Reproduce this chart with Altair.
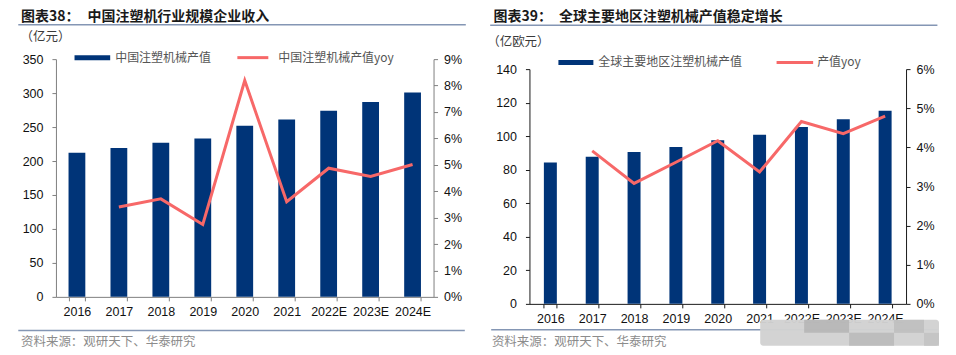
import altair as alt
import pandas as pd

# ---------------- data ----------------
years = ["2016", "2017", "2018", "2019", "2020", "2021", "2022E", "2023E", "2024E"]
china_value = [212, 219, 227, 233, 252, 261, 274, 287, 301]           # 亿元
china_yoy = [None, 3.40, 3.71, 2.74, 8.19, 3.60, 4.87, 4.56, 5.01]     # %
global_value = [84.3, 87.7, 90.5, 93.6, 97.6, 100.8, 105.5, 110.1, 115.2]  # 亿欧元
global_yoy = [None, 3.91, 3.08, 3.62, 4.17, 3.37, 4.66, 4.35, 4.80]    # %

left_ticks_1 = [0, 50, 100, 150, 200, 250, 300, 350]
right_ticks_1 = [0, 1, 2, 3, 4, 5, 6, 7, 8, 9]
left_ticks_2 = [0, 20, 40, 60, 80, 100, 120, 140]
right_ticks_2 = [0, 1, 2, 3, 4, 5, 6]

BAR = "#003478"
LINE = "#f76868"
RULE = "#8496b4"
FONT_NUM = "Liberation Sans"
FONT_CJK = "Noto Sans CJK SC"
ONE = alt.Data(values=[{"a": 1}])


def txt(s, x, y, size, color, weight="normal", align="left"):
    return alt.Chart(ONE).mark_text(
        text=s, align=align, baseline="middle", fontSize=size, color=color,
        fontWeight=weight, font=FONT_CJK
    ).encode(x=alt.value(x), y=alt.value(y))


def hrule(x1, x2, y, color, width):
    return alt.Chart(ONE).mark_rule(color=color, strokeWidth=width).encode(
        x=alt.value(x1), x2=alt.value(x2), y=alt.value(y), y2=alt.value(y))


def swatch_rect(x1, x2, y1, y2, color, opacity=1.0, radius=0):
    return alt.Chart(ONE).mark_rect(color=color, opacity=opacity, cornerRadius=radius).encode(
        x=alt.value(x1), x2=alt.value(x2), y=alt.value(y1), y2=alt.value(y2))


def panel(values, yoy, lticks, rticks, width, height, yrange, pin, pout, axcol,
          title_no, title_x_no, title_main, title_x_main, rule_x1, rule_x2, rule_y,
          unit, unit_x, unit_y, leg, foot_rule, foot_text, xlab_pad, extra=None, top=None):
    df = pd.DataFrame({"year": years, "value": values,
                       "yoy": [None if v is None else v / 100 for v in yoy]})
    dfl = df.dropna(subset=["yoy"])
    xenc = alt.X("year:N", sort=years,
                 scale=alt.Scale(domain=years, paddingInner=pin, paddingOuter=pout),
                 axis=alt.Axis(title=None, labelAngle=0, tickBand="extent", tickSize=4,
                               domainColor=axcol, tickColor=axcol, labelColor="#111111",
                               labelFont=FONT_NUM, labelFontSize=12.5, labelPadding=xlab_pad,
                               grid=False))
    yscale = dict(domain=[lticks[0], lticks[-1]], nice=False, zero=True)
    yrscale = dict(domain=[0, rticks[-1] / 100], nice=False, zero=True)
    if yrange is not None:
        yscale["range"] = yrange
        yrscale["range"] = yrange
    bars = alt.Chart(df).mark_bar(color=BAR).encode(
        x=xenc,
        y=alt.Y("value:Q", scale=alt.Scale(**yscale),
                axis=alt.Axis(values=lticks, title=None, grid=False, tickSize=4,
                              domainColor=axcol, tickColor=axcol, labelColor="#111111",
                              labelFont=FONT_NUM, labelFontSize=12.5, labelPadding=9,
                              labelOverlap=False)))
    line = alt.Chart(dfl).mark_line(color=LINE, strokeWidth=3).encode(
        x=xenc,
        y=alt.Y("yoy:Q", scale=alt.Scale(**yrscale),
                axis=alt.Axis(orient="right", values=[t / 100 for t in rticks], format=".0%",
                              title=None, grid=False, tickSize=4, domainColor=axcol,
                              tickColor=axcol, labelColor="#111111", labelFont=FONT_NUM,
                              labelFontSize=12.5, labelPadding=6, labelOverlap=False)))
    data_layer = alt.layer(bars, line).resolve_scale(y="independent")

    (bx1, bx2, by, bl_x, bl_text, lx1, lx2, ll_x, ll_text) = leg
    deco = [
        txt(title_no, title_x_no, -42, 14, "#1a1a1a", "bold"),
        txt(title_main, title_x_main, -42, 14, "#1a1a1a", "bold"),
        hrule(rule_x1, rule_x2, rule_y, RULE, 1.5),
        txt(unit, unit_x, unit_y, 12.5, "#3a3a3a"),
        swatch_rect(bx1, bx2, by - 2.5, by + 2.5, BAR),
        txt(bl_text, bl_x, by, 12, "#555555"),
        hrule(lx1, lx2, by, LINE, 3),
        txt(ll_text, ll_x, by, 12, "#555555"),
        hrule(foot_rule[0], foot_rule[1], foot_rule[2], RULE, 1.5),
        txt("资料来源：观研天下、华泰研究", foot_text[0], foot_text[1], 12.5, "#8c8c8c"),
    ]
    if extra is not None:
        deco = extra + deco
    if top is not None:
        deco = deco + top
    return alt.layer(data_layer, *deco).properties(width=width, height=height)


anchor = [alt.Chart(ONE).mark_rect(opacity=0).encode(
    x=alt.value(-47.7), x2=alt.value(892.3), y=alt.value(-51), y2=alt.value(288))]

# grey mosaic block covering the lower right corner of the second panel
mosaic = [
    swatch_rect(231, 410, 261, 287, "#d2d2d2", 0.97, 3),
    swatch_rect(275, 320, 261, 274, "#b4b4b4", 0.85),
    swatch_rect(320, 365, 274, 287, "#b8b8b8", 0.85),
    swatch_rect(365, 395, 261, 274, "#bdbdbd", 0.85),
    swatch_rect(395, 410, 274, 287, "#c2c2c2", 0.85),
]

p1 = panel(china_value, china_yoy, left_ticks_1, right_ticks_1, 378, 238, None, 0.6, 0.3,
           "#808080",
           "图表38：", -35, "中国注塑机行业规模企业收入", 31.6, -37.7, 410.3, -34.5,
           "（亿元）", -35.5, -21.7,
           (18.6, 54.3, -1.5, 59.3, "中国注塑机械产值", 181.6, 212.6, 222.6, "中国注塑机械产值yoy"),
           (-37.7, 409.3, 271.7), (-35, 282.7), 5, extra=anchor)

p2 = panel(global_value, global_yoy, left_ticks_2, right_ticks_2, 377, 245, [245, 10], 0.69, 0.345,
           "#1a1a1a",
           "图表39：", -36, "全球主要地区注塑机械产值稳定增长", 29.7, -39.3, 408.4, -34,
           "（亿欧元）", -42.3, -17.3,
           (29, 64, 3.3, 69, "全球主要地区注塑机械产值", 247.4, 284, 288, "产值yoy"),
           (-38.3, 408.7, 271), (-37.6, 282.7), 5, top=mosaic)

chart = alt.hconcat(p1, p2, spacing=96, bounds="flush").properties(padding=0).configure_view(stroke=None)

chart.save("out.html", embed_options={"renderer": "svg", "actions": False})
